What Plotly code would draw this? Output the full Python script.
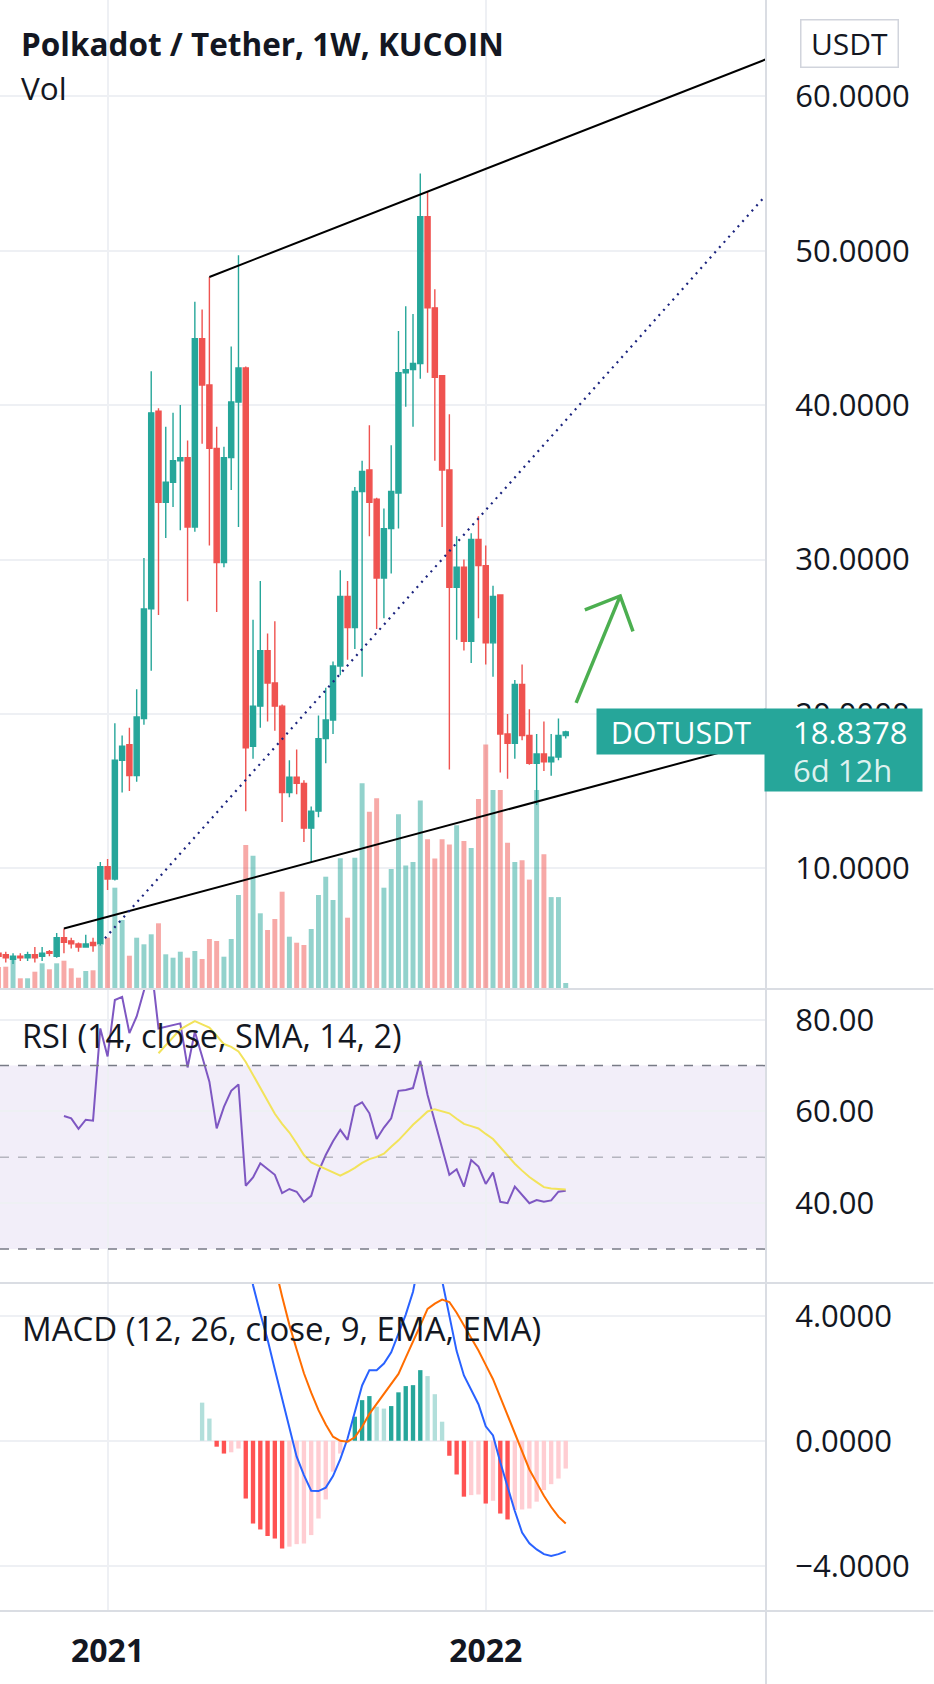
import pandas as pd
import plotly.graph_objects as go

# canvas geometry (px) of the TradingView screenshot
W, H = 934, 1684
PLOT_R = 766.5      # price scale starts here
PLOT_B = 1611       # bottom of the MACD pane
PANE_MAIN = 989     # bottom of the price pane
PANE_RSI = 1283     # bottom of the RSI pane

TEAL = "#26A69A"
RED = "#EF5350"
GRID = "#EEF0F4"
SEP = "#DADDE3"
TXT = "#131722"
FONT = "Open Sans"

first_bar = pd.Timestamp("2020-09-21")

# weekly DOT/USDT candles, Sep 2020 .. Mar 2022
opens = [4.5, 4.4, 4.1, 4.3, 4.2, 4.4, 4.3, 4.6, 4.3, 5.5,
         5.3, 5.1, 4.9, 5.2, 5.1, 10.1, 9.3, 17.0, 18.0, 16.0,
         19.7, 26.8, 39.6, 33.7, 35.0, 36.4, 36.6, 32.1, 44.3, 41.3,
         37.2, 29.8, 36.6, 40.2, 42.4, 17.9, 20.5, 24.1, 22.0, 20.5,
         14.9, 15.9, 15.5, 12.6, 13.7, 18.4, 19.6, 23.1, 27.6, 25.6,
         34.4, 35.8, 33.9, 28.8, 32.0, 34.3, 42.1, 42.3, 42.7, 52.2,
         46.3, 41.9, 35.8, 28.2, 29.5, 24.7, 31.3, 29.6, 24.6, 27.7,
         18.7, 18.1, 21.9, 18.6, 16.8, 17.4, 16.9, 17.2, 18.6]
highs = [4.7, 4.6, 4.5, 4.5, 4.6, 4.9, 4.9, 4.7, 5.8, 6.1,
         5.5, 5.2, 5.7, 5.5, 10.4, 10.6, 19.4, 18.6, 19.1, 21.6,
         30.1, 42.2, 39.8, 38.6, 39.5, 40.0, 37.7, 46.7, 46.2, 48.3,
         38.6, 37.3, 43.8, 49.7, 42.5, 26.1, 28.6, 25.2, 26.0, 20.6,
         17.0, 17.7, 15.7, 14.0, 19.9, 21.7, 23.4, 29.3, 28.6, 34.7,
         36.4, 38.7, 34.0, 33.3, 37.4, 44.8, 46.4, 45.9, 55.0, 53.8,
         47.5, 41.9, 39.4, 31.5, 30.0, 31.7, 32.8, 30.9, 28.3, 27.7,
         20.0, 22.2, 23.2, 20.3, 18.7, 19.5, 18.7, 19.7, 18.9]
lows = [4.0, 3.9, 3.8, 4.0, 4.0, 3.9, 4.0, 4.3, 4.2, 4.5,
        4.8, 4.6, 4.9, 4.6, 5.0, 8.6, 9.2, 14.9, 15.0, 15.6,
        19.3, 22.8, 26.4, 31.4, 33.4, 31.9, 27.3, 31.8, 37.5, 30.9,
        26.6, 29.5, 34.5, 32.1, 13.7, 17.1, 19.1, 19.5, 18.9, 13.0,
        14.6, 14.8, 11.7, 10.4, 13.3, 16.8, 18.7, 22.5, 23.5, 24.2,
        22.4, 31.5, 25.5, 26.2, 29.1, 32.0, 39.9, 38.6, 41.7, 42.1,
        36.4, 32.1, 16.4, 24.8, 24.1, 23.3, 26.2, 23.2, 22.4, 16.2,
        15.8, 17.1, 18.3, 16.7, 14.1, 16.3, 16.0, 17.0, 18.4]
closes = [4.3, 4.2, 4.3, 4.2, 4.4, 4.2, 4.5, 4.5, 5.5, 5.2,
          5.1, 4.9, 5.1, 5.0, 10.1, 9.3, 17.0, 17.9, 16.0, 19.8,
          26.8, 39.5, 33.7, 35.0, 36.4, 36.6, 32.1, 44.3, 41.3, 37.2,
          29.8, 36.6, 40.2, 42.4, 17.8, 20.5, 24.1, 22.0, 20.5, 14.9,
          15.9, 15.5, 12.6, 13.7, 18.4, 19.6, 23.1, 27.6, 25.6, 34.4,
          35.7, 33.7, 28.8, 32.0, 34.4, 42.1, 42.3, 42.7, 52.2, 46.3,
          41.8, 35.8, 28.2, 29.5, 24.7, 31.3, 29.6, 24.6, 27.6, 18.7,
          18.1, 21.9, 18.6, 16.8, 17.4, 16.9, 17.2, 18.6, 18.8378]
volume = [22, 22.3, 30.7, 10.7, 10.7, 17.3, 25.7, 19.7, 25.7, 28.3,
          20.7, 11.3, 18, 18.7, 44, 51.3, 101.3, 69, 33.3, 51.3,
          44.7, 54.7, 65.7, 34.7, 31.3, 37.3, 31.3, 38, 30, 50,
          48, 32.3, 50, 94, 144, 133.3, 75.7, 59, 70, 97.3,
          52.3, 46.3, 44, 60, 94, 112.3, 89, 130.7, 71.3, 131.3,
          205.7, 177.3, 190.7, 101.3, 120, 174.7, 123.5, 127, 188.4, 149.8,
          130.5, 149.8, 144.5, 163.8, 148, 141, 190.1, 244.5, 198.9, 198.9,
          146.3, 127, 128.7, 109.4, 198.9, 134.7, 91.9, 91.9, 6]

# RSI (14) from bar 9, its SMA (14) from bar 22
rsi_start = 9
rsi = [59.0, 58.5, 56.2, 58.2, 58.0, 78.1, 72.0, 84.3, 85.0, 77.1,
       80.7, 86.5, 92.0, 78.1, 78.5, 78.9, 79.2, 69.6, 77.4, 72.0,
       66.5, 56.3, 61.0, 64.5, 65.9, 43.8, 45.6, 48.7, 47.5, 46.2,
       42.2, 43.1, 42.5, 40.3, 41.6, 46.9, 50.5, 53.5, 56.0, 53.8,
       61.1, 62.0, 59.6, 54.0, 56.5, 58.5, 64.5, 64.7, 65.1, 71.0,
       63.6, 57.8, 52.0, 46.2, 47.4, 43.6, 49.4, 48.0, 44.2, 46.7,
       40.3, 40.0, 43.6, 41.8, 40.0, 40.7, 40.3, 40.6, 42.5, 42.7]
rsi_ma_start = 22
rsi_ma = [72.7, 74.5, 76.1, 77.9, 78.8, 79.7, 79.0, 78.3, 76.5, 74.7,
          74.1, 73.1, 70.8, 68.0, 65.0, 62.1, 59.5, 57.3, 55.4, 53.0,
          50.5, 48.9, 48.2, 47.4, 46.7, 46.0, 46.8, 47.7, 48.8, 49.6,
          50.1, 50.8, 52.3, 53.7, 55.4, 57.1, 58.5, 60.0, 60.5, 60.1,
          59.6, 58.4, 57.3, 56.8, 56.3, 55.1, 54.0, 52.2, 50.4, 48.6,
          47.1, 45.7, 44.6, 43.5, 43.2, 43.1, 43.0]

# MACD (12, 26, 9)
hist_start = 28
macd_hist = [1.22, 0.71, -0.19, -0.41, -0.37, -0.25, -1.85, -2.65, -2.84, -3.05,
             -3.13, -3.45, -3.39, -3.31, -3.29, -3.02, -2.49, -1.88, -0.99, -0.41,
             -0.05, 0.77, 1.30, 1.43, 1.09, 1.03, 1.11, 1.55, 1.75, 1.78,
             2.26, 2.07, 1.49, 0.61, -0.48, -1.08, -1.79, -1.74, -1.72, -2.01,
             -1.92, -2.33, -2.52, -2.22, -2.20, -2.17, -1.95, -1.58, -1.39, -1.21,
             -0.89]
macd_start = 34
macd_line = [6.4, 4.98, 4.07, 3.24, 2.28, 1.32, 0.41, -0.51, -1.10, -1.60,
             -1.61, -1.50, -1.13, -0.59, 0.07, 0.92, 1.77, 2.26, 2.26, 2.47,
             2.83, 3.43, 4.04, 4.77, 5.95, 6.29, 5.88, 5.13, 3.95, 2.87,
             2.09, 1.61, 1.17, 0.46, 0.17, -0.69, -1.47, -2.25, -2.94, -3.28,
             -3.48, -3.63, -3.69, -3.63, -3.54]
signal_start = 37
signal_line = [6.3, 5.6, 4.62, 3.71, 2.92, 2.16, 1.54, 0.98, 0.52, 0.13,
               0.0, -0.03, 0.11, 0.45, 0.86, 1.19, 1.51, 1.82, 2.14, 2.66,
               3.16, 3.69, 4.22, 4.39, 4.52, 4.44, 4.1, 3.7, 3.3, 2.89,
               2.43, 1.97, 1.40, 0.82, 0.22, -0.36, -0.92, -1.34, -1.76, -2.12,
               -2.43, -2.65]

# hand-drawn objects: (bar index, price) anchors
upper_trend = [(29, 48.3), (105.54, 62.4)]
lower_trend = [(9, 6.1), (105.54, 18.3)]
dotted_trend = [(14.64, 5.47), (105.54, 53.6)]
arrow_shaft = [(79.43, 20.71), (85.49, 27.64)]
arrow_head = [(80.63, 26.74), (85.49, 27.64), (87.25, 25.35)]


def bar_time(i):
    return first_bar + pd.Timedelta(days=7 * i)


def px_x(x):
    return x / PLOT_R


def px_y(y):
    return (PLOT_B - y) / PLOT_B


dates = [bar_time(i) for i in range(len(closes))]
week_ms = 7 * 24 * 3600 * 1000

vol_colors = ["rgba(38,166,154,0.5)" if c >= o else "rgba(239,83,80,0.5)"
              for o, c in zip(opens, closes)]

hist_colors = []
prev = None
for v in macd_hist:
    if v >= 0:
        hist_colors.append(TEAL if prev is not None and v > prev else "#B2DFDB")
    else:
        hist_colors.append("#FFCDD2" if prev is not None and v > prev else "#FF5252")
    prev = v

fig = go.Figure()

fig.add_trace(go.Bar(x=dates, y=volume, marker_color=vol_colors, marker_line_width=0,
                     width=0.68 * week_ms, xaxis="x", yaxis="y"))
fig.add_trace(go.Candlestick(
    x=dates, open=opens, high=highs, low=lows, close=closes,
    increasing=dict(line=dict(color=TEAL, width=1.4), fillcolor=TEAL),
    decreasing=dict(line=dict(color=RED, width=1.4), fillcolor=RED),
    whiskerwidth=0, xaxis="x", yaxis="y4"))


def seg(points):
    return [bar_time(p[0]) for p in points], [p[1] for p in points]


ax, ay = seg(arrow_shaft)
hx, hy = seg(arrow_head)
fig.add_trace(go.Scatter(x=ax + [None] + hx, y=ay + [None] + hy, mode="lines",
                         line=dict(color="#4CAF50", width=3.5), xaxis="x", yaxis="y4"))

fig.add_trace(go.Scatter(x=dates[rsi_start:], y=rsi, mode="lines",
                         line=dict(color="#7E57C2", width=2), xaxis="x2", yaxis="y2"))
fig.add_trace(go.Scatter(x=dates[rsi_ma_start:], y=rsi_ma, mode="lines",
                         line=dict(color="#F2E35B", width=2), xaxis="x2", yaxis="y2"))

fig.add_trace(go.Bar(x=dates[hist_start:], y=macd_hist, marker_color=hist_colors,
                     marker_line_width=0, width=0.6 * week_ms, xaxis="x3", yaxis="y3"))
fig.add_trace(go.Scatter(x=dates[macd_start:], y=macd_line, mode="lines",
                         line=dict(color="#2962FF", width=2), xaxis="x3", yaxis="y3"))
fig.add_trace(go.Scatter(x=dates[signal_start:], y=signal_line, mode="lines",
                         line=dict(color="#FF6D00", width=2), xaxis="x3", yaxis="y3"))

x_range = [bar_time(0.206), bar_time(105.54)]
year_ticks = [pd.Timestamp("2021-01-04"), pd.Timestamp("2022-01-03")]
xcommon = dict(range=x_range, showgrid=True, gridcolor=GRID, gridwidth=1.5,
               tickvals=year_ticks, zeroline=False, showline=False, domain=[0, 1])
ycommon = dict(side="right", showgrid=True, gridcolor=GRID, gridwidth=1.5, zeroline=False,
               showline=False, ticks="outside", ticklen=22, tickcolor="rgba(0,0,0,0)",
               tickfont=dict(size=31, color=TXT, family=FONT), fixedrange=True)

fig.update_layout(
    width=W, height=H,
    margin=dict(l=0, r=W - PLOT_R, t=0, b=H - PLOT_B),
    paper_bgcolor="white", plot_bgcolor="white",
    showlegend=False,
    boxgap=0.3, boxgroupgap=0,
    font=dict(family=FONT, color=TXT),
    xaxis=dict(xcommon, anchor="y", showticklabels=False, rangeslider=dict(visible=False)),
    xaxis2=dict(xcommon, anchor="y2", matches="x", showticklabels=False),
    xaxis3=dict(xcommon, anchor="y3", matches="x", ticktext=["2021", "2022"],
                ticks="outside", ticklen=12, tickcolor="rgba(0,0,0,0)",
                tickfont=dict(size=32, color=TXT, family=FONT, weight="bold")),
    yaxis=dict(domain=[px_y(PANE_MAIN), 1], range=[0, PANE_MAIN], visible=False),
    yaxis4=dict(ycommon, overlaying="y", anchor="x", range=[2.18, 66.24],
                tickvals=[10, 20, 30, 40, 50, 60], tickformat=".4f"),
    yaxis2=dict(ycommon, domain=[px_y(PANE_RSI), px_y(PANE_MAIN)], anchor="x2",
                range=[22.6, 86.7], tickvals=[40, 60, 80], tickformat=".2f"),
    yaxis3=dict(ycommon, domain=[0, px_y(PANE_RSI)], anchor="x3", range=[-5.45, 5.05],
                tickvals=[-4, 0, 4], ticktext=["\u22124.0000", "0.0000", "4.0000"]),
)

shapes = []
# RSI band and levels
shapes.append(dict(type="rect", xref="x2 domain", yref="y2", x0=0, x1=1, y0=30, y1=70,
                   fillcolor="rgba(126,87,194,0.1)", line_width=0, layer="below"))
for lvl, col in [(70, "#787B86"), (50, "rgba(120,123,134,0.5)"), (30, "#787B86")]:
    shapes.append(dict(type="line", xref="x2 domain", yref="y2", x0=0, x1=1, y0=lvl, y1=lvl,
                       line=dict(color=col, width=1.5, dash="dash")))
# trend lines
for pts, style in [(upper_trend, dict(color="black", width=2)),
                   (lower_trend, dict(color="black", width=2)),
                   (dotted_trend, dict(color="#1A237E", width=2.2, dash="2px,5px"))]:
    (x0, y0), (x1, y1) = pts
    shapes.append(dict(type="line", xref="x", yref="y4", x0=bar_time(x0), y0=y0,
                       x1=bar_time(x1), y1=y1, line=style))
# pane separators and price scale border
for ypx in (PANE_MAIN, PANE_RSI, PLOT_B):
    shapes.append(dict(type="line", xref="paper", yref="paper", x0=0, x1=W / PLOT_R,
                       y0=px_y(ypx), y1=px_y(ypx), line=dict(color=SEP, width=2)))
shapes.append(dict(type="line", xref="paper", yref="paper", x0=1, x1=1,
                   y0=px_y(H), y1=1, line=dict(color=SEP, width=2)))
fig.update_layout(shapes=shapes)

ann = []


def label(text, x, y, size, **kw):
    ann.append(dict(text=text, x=px_x(x), y=px_y(y), xref="paper", yref="paper",
                    xanchor=kw.pop("xanchor", "left"), yanchor="middle", showarrow=False,
                    font=dict(size=size, color=kw.pop("color", TXT), family=FONT,
                              weight=kw.pop("weight", "normal")), **kw))


label("Polkadot / Tether, 1W, KUCOIN", 19, 44, 31.5, weight="bold")
label("Vol", 19, 87, 31.5)
label("RSI (14, close, SMA, 14, 2)", 20, 1035, 32.5)
label("MACD (12, 26, close, 9, EMA, EMA)", 20, 1328, 33)
label("USDT", 850.5, 43, 30, xanchor="center", bordercolor="#D1D4DC", borderwidth=1.5,
      borderpad=0, width=96, height=46, bgcolor="white")
label("DOTUSDT", 681, 731.5, 30.5, xanchor="center", color="white", bgcolor=TEAL,
      width=168, height=45, borderpad=0)
label(" ", 844.5, 750, 10, xanchor="center", bgcolor=TEAL, width=157, height=82, borderpad=0)
label("18.8378", 792, 731.5, 31, color="white")
label("6d 12h", 792, 770, 31, color="rgba(255,255,255,0.85)")
fig.update_layout(annotations=ann)

# the default page has an 8px body margin; the figure must sit at the top-left corner
fig.write_html("out.html", config={"displayModeBar": False},
               post_script="document.body.style.margin = '0';")
